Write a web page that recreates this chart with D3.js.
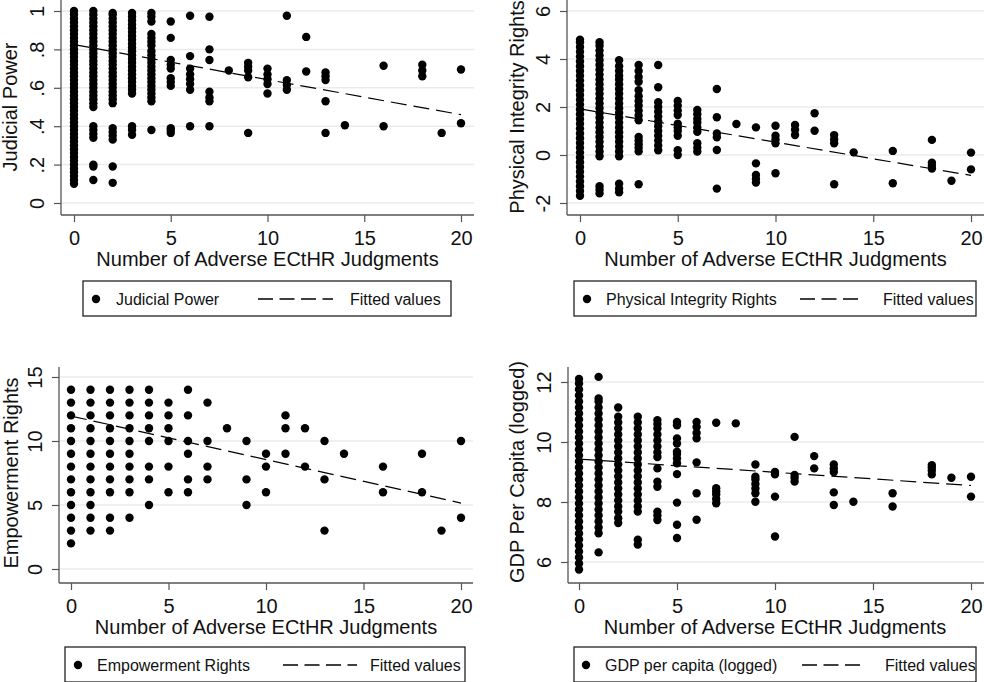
<!DOCTYPE html>
<html>
<head>
<meta charset="utf-8">
<script src="https://cdn.jsdelivr.net/npm/d3@7"></script>
<style>
  body { margin: 0; background: #fff; }
  text { font-family: "Liberation Sans", Arial, sans-serif; fill: #111; }
</style>
</head>
<body>
<div class="chart"></div>
<script>
// x values shared by all four panels
const xTicks = [0, 5, 10, 15, 20];
const fitX = [0, 20];

// each entry: [adverse judgments, [observed values at that x]]
const judicialPts = [
  [0, [0.10,0.12,0.14,0.16,0.18,0.20,0.22,0.24,0.26,0.28,0.30,0.32,0.34,0.36,0.38,0.40,0.42,0.44,0.46,0.48,0.50,0.52,0.54,0.56,0.58,0.60,0.62,0.64,0.66,0.68,0.70,0.72,0.74,0.76,0.78,0.80,0.82,0.84,0.86,0.88,0.90,0.92,0.94,0.96,0.98,1.00]],
  [1, [0.12,0.19,0.20,0.34,0.36,0.38,0.40,0.50,0.52,0.54,0.56,0.58,0.60,0.62,0.64,0.66,0.68,0.70,0.72,0.74,0.76,0.78,0.80,0.82,0.84,0.86,0.88,0.90,0.92,0.94,0.96,0.98,1.00]],
  [2, [0.105,0.19,0.33,0.35,0.37,0.39,0.52,0.54,0.56,0.58,0.60,0.62,0.64,0.66,0.68,0.70,0.72,0.74,0.76,0.78,0.80,0.82,0.84,0.86,0.88,0.90,0.92,0.94,0.96,0.98,0.99]],
  [3, [0.355,0.38,0.40,0.57,0.59,0.61,0.63,0.65,0.67,0.69,0.71,0.73,0.75,0.77,0.79,0.81,0.83,0.85,0.87,0.89,0.91,0.93,0.95,0.97,0.99]],
  [4, [0.38,0.53,0.55,0.57,0.59,0.61,0.63,0.65,0.67,0.69,0.71,0.73,0.75,0.77,0.79,0.82,0.84,0.86,0.88,0.945,0.97,0.99]],
  [5, [0.365,0.38,0.39,0.61,0.63,0.65,0.70,0.72,0.745,0.86,0.945]],
  [6, [0.40,0.59,0.62,0.645,0.67,0.70,0.765,0.975]],
  [7, [0.40,0.53,0.55,0.58,0.745,0.80,0.97]],
  [8, [0.69]],
  [9, [0.365,0.655,0.69,0.71,0.73]],
  [10, [0.57,0.62,0.645,0.67,0.70]],
  [11, [0.59,0.615,0.64,0.975]],
  [12, [0.685,0.865]],
  [13, [0.365,0.53,0.64,0.66,0.68]],
  [14, [0.405]],
  [16, [0.40,0.715]],
  [18, [0.66,0.69,0.72]],
  [19, [0.365]],
  [20, [0.415,0.695]]
];
const judicialFit = [0.825, 0.46];

const physicalPts = [
  [0, [-1.7,-1.5,-1.3,-1.1,-0.9,-0.7,-0.5,-0.3,-0.1,0.1,0.3,0.5,0.7,0.9,1.1,1.3,1.5,1.7,1.9,2.1,2.3,2.5,2.7,2.9,3.1,3.3,3.5,3.7,3.9,4.1,4.3,4.5,4.7,4.8]],
  [1, [-1.6,-1.45,-1.3,-0.05,0.15,0.35,0.55,0.75,0.95,1.15,1.35,1.55,1.75,1.95,2.15,2.35,2.55,2.75,2.95,3.15,3.35,3.55,3.75,3.95,4.15,4.35,4.55,4.7]],
  [2, [-1.55,-1.4,-1.2,-0.05,0.15,0.35,0.55,0.75,0.95,1.15,1.35,1.55,1.75,1.95,2.15,2.35,2.55,2.75,2.95,3.15,3.3,3.5,3.7,3.95]],
  [3, [-1.22,0.15,0.3,0.45,0.6,0.75,1.45,1.65,1.85,2.05,2.25,2.45,2.7,3.05,3.25,3.5,3.75]],
  [4, [0.2,0.4,0.6,0.8,1.0,1.2,1.4,1.6,1.8,2.0,2.2,2.82,3.75]],
  [5, [0.0,0.2,0.8,1.0,1.15,1.3,1.67,1.85,2.05,2.25]],
  [6, [0.14,0.3,0.49,0.97,1.15,1.35,1.5,1.7,1.88]],
  [7, [-1.4,0.21,0.74,0.9,1.57,2.75]],
  [8, [1.29]],
  [9, [-1.15,-1.0,-0.83,-0.35,1.15]],
  [10, [-0.76,0.49,0.65,0.8,1.22]],
  [11, [0.83,1.05,1.25]],
  [12, [1.01,1.74]],
  [13, [-1.22,0.49,0.65,0.83]],
  [14, [0.11]],
  [16, [-1.18,0.17]],
  [18, [-0.56,-0.45,-0.32,0.63]],
  [19, [-1.07]],
  [20, [-0.6,0.1]]
];
const physicalFit = [1.92, -0.85];

const empowerPts = [
  [0, [2,3,4,5,6,7,8,9,10,11,12,13,14]],
  [1, [3,4,5,6,7,8,9,10,11,12,13,14]],
  [2, [3,4,6,7,8,9,10,11,12,13,14]],
  [3, [4,6,7,8,9,10,11,12,13,14]],
  [4, [5,7,8,10,11,12,13,14]],
  [5, [6,8,10,11,12,13]],
  [6, [6,7,9,10,12,14]],
  [7, [7,8,10,13]],
  [8, [11]],
  [9, [5,7,10]],
  [10, [6,8,9]],
  [11, [9,11,12]],
  [12, [8,11]],
  [13, [3,7,10]],
  [14, [9]],
  [16, [6,8]],
  [18, [6,9]],
  [19, [3]],
  [20, [4,10]]
];
const empowerFit = [11.95, 5.15];

const gdpPts = [
  [0, [5.75,5.95,6.15,6.35,6.55,6.75,6.95,7.15,7.35,7.55,7.75,7.95,8.15,8.35,8.55,8.75,8.95,9.15,9.35,9.55,9.75,9.95,10.15,10.35,10.55,10.75,10.95,11.15,11.35,11.55,11.75,11.95,12.1]],
  [1, [6.32,6.96,7.15,7.35,7.55,7.75,7.95,8.15,8.35,8.55,8.75,8.95,9.15,9.35,9.55,9.75,9.95,10.15,10.35,10.55,10.75,10.95,11.15,11.35,11.45,12.17]],
  [2, [7.3,7.46,7.68,7.85,8.05,8.25,8.45,8.65,8.85,9.05,9.25,9.45,9.65,9.85,10.05,10.25,10.45,10.65,10.84,11.15]],
  [3, [6.58,6.74,7.68,7.85,8.05,8.25,8.45,8.65,8.85,9.05,9.25,9.45,9.65,9.85,10.05,10.25,10.45,10.65,10.84]],
  [4, [7.4,7.55,7.68,8.51,8.68,9.12,9.5,9.65,9.85,10.05,10.25,10.45,10.6,10.73]],
  [5, [6.8,7.24,7.98,8.93,9.29,9.45,9.6,9.68,9.95,10.12,10.56,10.67]],
  [6, [7.41,8.29,9.32,10.12,10.3,10.5,10.67]],
  [7, [7.96,8.1,8.25,8.35,8.46,10.64]],
  [8, [10.62]],
  [9, [8.01,8.29,8.45,8.6,8.75,8.84,9.25]],
  [10, [6.85,8.18,8.92,9.0]],
  [11, [8.68,8.8,8.9,10.17]],
  [12, [9.12,9.53]],
  [13, [7.9,8.32,9.0,9.12,9.25]],
  [14, [8.01]],
  [16, [7.85,8.29]],
  [18, [8.92,9.05,9.15,9.23]],
  [19, [8.81]],
  [20, [8.18,8.84]]
];
const gdpFit = [9.43, 8.55];

const judicialTicks = [0, 0.2, 0.4, 0.6, 0.8, 1];
const judicialTickLabels = ['0', '.2', '.4', '.6', '.8', '1'];
const physicalTicks = [-2, 0, 2, 4, 6];
const empowerTicks = [0, 5, 10, 15];
const gdpTicks = [6, 8, 10, 12];

const W = 984, H = 682;

let svg = d3.select('.chart').append('svg')
    .attr('width', W)
    .attr('height', H)

// panel geometry (pixels) kept apart from the data
const panels = [
  {pts: judicialPts, fit: judicialFit, ticks: judicialTicks, labels: judicialTickLabels,
   ytitle: 'Judicial Power', legend: 'Judicial Power',
   axisX: 61, x0: 74, x1: 461, right: 474, yDom: [0, 1], yRange: [203, 11], top: -2, bottom: 215, titleX: 17,
   leg: {x: 83, y: 281, w: 368, dot: 96, text: 116, d0: 258, d1: 333, fitText: 350}},
  {pts: physicalPts, fit: physicalFit, ticks: physicalTicks, labels: physicalTicks.map(String),
   ytitle: 'Physical Integrity Rights', legend: 'Physical Integrity Rights',
   axisX: 567, x0: 580, x1: 971, right: 986, yDom: [-2, 6], yRange: [203, 11], top: -2, bottom: 215, titleX: 524,
   leg: {x: 574, y: 281, w: 402, dot: 587, text: 606, d0: 800, d1: 862, fitText: 883}},
  {pts: empowerPts, fit: empowerFit, ticks: empowerTicks, labels: empowerTicks.map(String),
   ytitle: 'Empowerment Rights', legend: 'Empowerment Rights',
   axisX: 59, x0: 71, x1: 461, right: 473, yDom: [0, 15], yRange: [569, 377], top: 367, bottom: 583, titleX: 18,
   leg: {x: 65, y: 647, w: 400, dot: 78, text: 97, d0: 283, d1: 357, fitText: 370}},
  {pts: gdpPts, fit: gdpFit, ticks: gdpTicks, labels: gdpTicks.map(String),
   ytitle: 'GDP Per Capita (logged)', legend: 'GDP per capita (logged)',
   axisX: 568, x0: 579, x1: 971, right: 986, yDom: [6, 12], yRange: [562, 382], top: 367, bottom: 583, titleX: 524,
   leg: {x: 574, y: 647, w: 402, dot: 586, text: 605, d0: 802, d1: 863, fitText: 885}}
];

panels.forEach(drawPanel);

function drawPanel(p) {
  const g = svg.append('g');

  const xScale = d3.scaleLinear().domain([0, 20]).range([p.x0, p.x1]);
  const yScale = d3.scaleLinear().domain(p.yDom).range(p.yRange);

  // light gridlines at the y ticks
  g.append('g')
    .selectAll('line')
    .data(p.ticks)
    .enter()
    .append('line')
    .attr('x1', p.axisX)
    .attr('x2', p.right)
    .attr('y1', d => yScale(d))
    .attr('y2', d => yScale(d))
    .attr('stroke', '#ebebeb')
    .attr('stroke-width', 1.5)

  // y axis, labels turned on their side
  const yAxis = d3.axisLeft(yScale)
    .tickValues(p.ticks)
    .tickSize(7)
    .tickSizeOuter(0)
    .tickFormat((d, i) => p.labels[i]);

  let Y = g.append('g')
    .attr('class', 'axis y-axis')
    .attr('transform', `translate(${p.axisX}, 0)`)
    .call(yAxis);
  Y.select('.domain').remove()
  Y.selectAll('.tick line').attr('stroke', '#555').attr('stroke-width', 1.2)
  Y.selectAll('.tick text')
    .attr('transform', 'rotate(-90)')
    .attr('x', 0)
    .attr('y', -17)
    .attr('dy', 0)
    .attr('text-anchor', 'middle')
    .attr('font-size', 20)
    .attr('font-family', null)
    .attr('fill', '#111')

  // x axis
  const xAxis = d3.axisBottom(xScale)
    .tickValues(xTicks)
    .tickSize(7)
    .tickSizeOuter(0)
    .tickPadding(8);

  let X = g.append('g')
    .attr('class', 'axis x-axis')
    .attr('transform', `translate(0, ${p.bottom})`)
    .call(xAxis);
  X.select('.domain').remove()
  X.selectAll('.tick line').attr('stroke', '#555').attr('stroke-width', 1.2)
  X.selectAll('.tick text')
    .attr('dy', 0)
    .attr('y', 30)
    .attr('font-size', 20)
    .attr('font-family', null)
    .attr('fill', '#111')

  // axis lines
  g.append('line')
    .attr('x1', p.axisX).attr('x2', p.axisX)
    .attr('y1', p.top).attr('y2', p.bottom)
    .attr('stroke', '#555').attr('stroke-width', 1.3)
  g.append('line')
    .attr('x1', p.axisX).attr('x2', p.right)
    .attr('y1', p.bottom).attr('y2', p.bottom)
    .attr('stroke', '#555').attr('stroke-width', 1.3)

  // titles
  g.append('text')
    .attr('x', xScale(10))
    .attr('y', p.bottom + 51)
    .attr('text-anchor', 'middle')
    .attr('font-size', 20)
    .text('Number of Adverse ECtHR Judgments')

  const yMid = (p.yRange[0] + p.yRange[1]) / 2;
  g.append('text')
    .attr('transform', `translate(${p.titleX}, ${yMid}) rotate(-90)`)
    .attr('text-anchor', 'middle')
    .attr('font-size', 20)
    .text(p.ytitle)

  // scatter points
  const flat = p.pts.flatMap(([x, ys]) => ys.map(y => ({x: x, y: y})));
  g.append('g')
    .selectAll('circle')
    .data(flat)
    .enter()
    .append('circle')
    .attr('cx', d => xScale(d.x))
    .attr('cy', d => yScale(d.y))
    .attr('r', 4.2)
    .attr('fill', '#000')

  // fitted values
  const line = d3.line()
    .x(d => xScale(d[0]))
    .y(d => yScale(d[1]));

  g.append('path')
    .datum(fitX.map((x, i) => [x, p.fit[i]]))
    .attr('d', line)
    .attr('fill', 'none')
    .attr('stroke', '#000')
    .attr('stroke-width', 1.2)
    .attr('stroke-dasharray', '16,7')

  // legend box
  const L = p.leg;
  const ly = L.y + 18;
  g.append('rect')
    .attr('x', L.x).attr('y', L.y)
    .attr('width', L.w).attr('height', 35)
    .attr('fill', '#fff')
    .attr('stroke', '#222')
    .attr('stroke-width', 1.3)
  g.append('circle')
    .attr('cx', L.dot).attr('cy', ly)
    .attr('r', 4.2)
    .attr('fill', '#000')
  g.append('text')
    .attr('x', L.text).attr('y', ly)
    .attr('dy', '0.36em')
    .attr('font-size', 16)
    .text(p.legend)
  g.append('line')
    .attr('x1', L.d0).attr('x2', L.d1)
    .attr('y1', ly).attr('y2', ly)
    .attr('stroke', '#000')
    .attr('stroke-width', 1.4)
    .attr('stroke-dasharray', '15,6.5')
  g.append('text')
    .attr('x', L.fitText).attr('y', ly)
    .attr('dy', '0.36em')
    .attr('font-size', 16)
    .text('Fitted values')
}
</script>
</body>
</html>
